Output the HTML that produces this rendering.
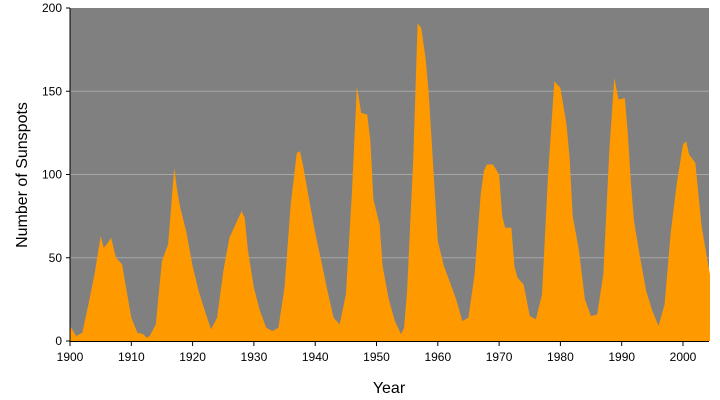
<!DOCTYPE html>
<html><head><meta charset="utf-8"><style>
body{margin:0;background:#fff;}
svg{display:block;font-family:"Liberation Sans",Arial,sans-serif;}
</style></head><body>
<svg id="chart" width="720" height="400">
<rect x="70" y="8" width="639" height="333" fill="#808080"/>
<g id="grid"></g><g id="area"></g><g id="axes"></g>
<text x="389" y="393" font-size="16" text-anchor="middle">Year</text>
<text transform="translate(27,175) rotate(-90)" font-size="16" text-anchor="middle">Number of Sunspots</text>
</svg>
<script>
const years=[1900,1900.5,1901,1902,1903,1904,1905,1905.5,1906,1906.7,1907.5,1908.5,1909,1910,1911,1912,1912.5,1913,1914,1915,1916,1916.5,1917,1917.5,1918,1919,1920,1921,1922,1923,1924,1925,1926,1927,1928,1928.5,1929,1930,1931,1932,1933,1934,1935,1936,1937,1937.5,1938,1939,1940,1941,1942,1943,1944,1945,1946,1946.8,1947.5,1948.5,1949,1949.5,1950.5,1951,1952,1953,1954,1954.5,1955,1956,1956.7,1957.3,1958,1958.5,1959,1960,1961,1962,1963,1964,1965,1966,1967,1967.5,1968,1969,1970,1970.5,1971,1972,1972.5,1973,1974,1975,1976,1977,1978,1979,1980,1981,1981.5,1982,1983,1984,1985,1986,1987,1988,1988.8,1989.5,1990.5,1991,1991.5,1992,1993,1994,1995,1996,1997,1998,1999,2000,2000.5,2001,2002,2003,2004,2004.4];
const sunspots=[9,6,3,5,22,40,63,56,58,62,50,46,35,14,5,4,2,3,10,48,58,80,104,90,80,65,45,30,18,7,14,42,62,70,78,74,55,32,18,8,6,8,32,82,113,114,106,85,65,48,30,14,10,28,90,153,137,136,120,85,70,45,25,12,4,8,30,110,191,188,170,150,120,60,45,35,25,12,14,40,88,102,106,106,100,75,68,68,45,38,34,15,13,28,100,156,152,130,110,75,55,25,15,16,40,115,158,145,146,125,95,72,50,30,18,9,22,65,95,118,120,112,107,70,48,40];
const yTicks=[0,50,100,150,200];
const xTicks=[1900,1910,1920,1930,1940,1950,1960,1970,1980,1990,2000];
const NS='http://www.w3.org/2000/svg';
const X=y=>70+(y-1900)*6.13, Y=v=>341-v*1.665;
function mk(t,a,p){const e=document.createElementNS(NS,t);for(const k in a)e.setAttribute(k,a[k]);p.appendChild(e);return e;}
const g=document.getElementById('grid'),ar=document.getElementById('area'),ax=document.getElementById('axes');
yTicks.forEach(v=>{
 if(v>0&&v<200){const l=mk('line',{x1:70,x2:709,y1:Y(v),y2:Y(v),stroke:'#a6a6a6','stroke-width':1},g);
 
 }
 const t=mk('text',{x:62,y:Y(v)+4,'font-size':12,'text-anchor':'end'},ax);t.textContent=v;
 
 
 mk('line',{x1:66,x2:70,y1:Y(v),y2:Y(v),stroke:'#000'},ax);
});
let d='M'+X(years[0])+','+Y(0);
years.forEach((y,i)=>{d+=' L'+X(y).toFixed(1)+','+Y(sunspots[i]).toFixed(1);});
d+=' L'+X(years[years.length-1])+','+Y(0)+' Z';
const p=mk('path',{d:d,fill:'#ff9900'},ar);


mk('line',{x1:70,x2:70,y1:8,y2:341,stroke:'#000'},ax);
mk('line',{x1:70,x2:709,y1:341.5,y2:341.5,stroke:'#000'},ax);
xTicks.forEach(y=>{
 mk('line',{x1:X(y),x2:X(y),y1:341,y2:346,stroke:'#000'},ax);
 const t=mk('text',{x:X(y),y:361,'font-size':12,'text-anchor':'middle'},ax);t.textContent=y;
 
 
});
</script>
</body></html>
